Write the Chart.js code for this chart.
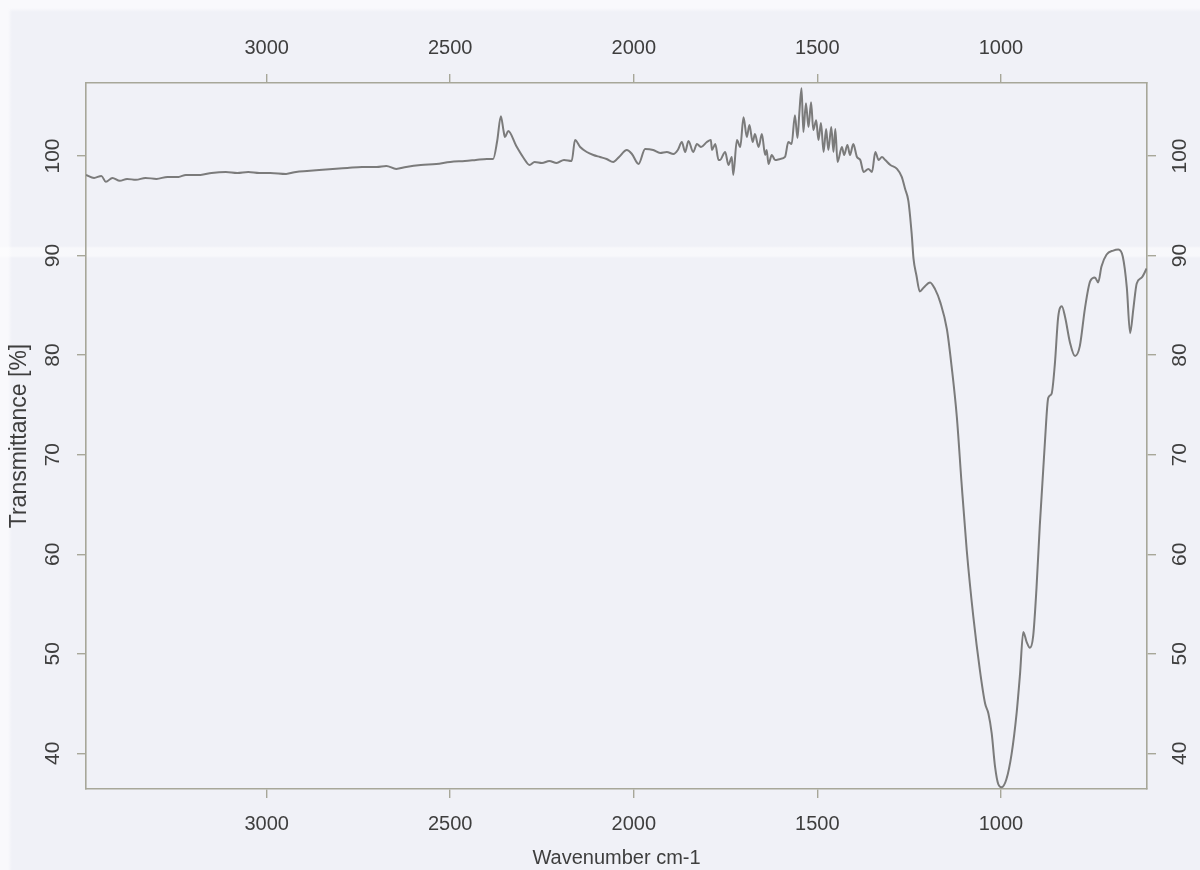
<!DOCTYPE html>
<html>
<head>
<meta charset="utf-8">
<title>IR spectrum</title>
<script src="https://cdn.jsdelivr.net/npm/chart.js@4.4.1/dist/chart.umd.min.js"></script>
<style>
  html, body { margin: 0; padding: 0; }
  body { background: #f0f1f7; }
  #wrap {
    position: relative;
    width: 1200px;
    height: 870px;
    background:
      linear-gradient(180deg, rgba(255,255,255,0) 246px, rgba(255,255,255,0.5) 248px, rgba(255,255,255,0.5) 256px, rgba(255,255,255,0) 258px),
      linear-gradient(180deg, #f9f9fc 0px, #f9f9fc 8px, rgba(255,255,255,0) 12px),
      linear-gradient(90deg, #f9f9fc 0px, #f9f9fc 8px, rgba(255,255,255,0) 12px),
      #f0f1f7;
  }
  canvas { position: absolute; left: 0; top: 0; }
</style>
</head>
<body>
<div id="wrap"><canvas id="spectrum" width="1200" height="870"></canvas></div>
<script>
// Wavenumber (cm-1), high to low, and the transmittance (%) at each one
const wavenumbers = [
  3492, 3470, 3450, 3438, 3420, 3400, 3380, 3356, 3330, 3300,
  3270, 3240, 3220, 3180, 3150, 3111, 3080, 3050, 3020, 2990,
  2947, 2920, 2890, 2857, 2820, 2780, 2740, 2700, 2674, 2647,
  2620, 2580, 2538, 2500, 2460, 2430, 2400, 2383, 2372, 2362,
  2355, 2351, 2342, 2320, 2300, 2284, 2270, 2250, 2230, 2210,
  2190, 2169, 2160, 2146, 2128, 2110, 2092, 2074, 2056, 2040,
  2019, 2005, 1987, 1969, 1947, 1928, 1910, 1892, 1880, 1869,
  1860, 1851, 1838, 1828, 1817, 1801, 1790, 1787, 1778, 1769,
  1765, 1751, 1742, 1733, 1729, 1719, 1710, 1701, 1692, 1685,
  1676, 1670, 1660, 1651, 1642, 1638, 1633, 1624, 1615, 1601,
  1588, 1579, 1570, 1561, 1554, 1549, 1543, 1538, 1531, 1524,
  1517, 1511, 1503, 1497, 1490, 1483, 1476, 1470, 1462, 1456,
  1451, 1445, 1433, 1427, 1418, 1411, 1402, 1392, 1383, 1374,
  1361, 1351, 1342, 1333, 1324, 1315, 1301, 1283, 1270, 1261,
  1252, 1243, 1238, 1230, 1221, 1210, 1193, 1179, 1165, 1147,
  1134, 1120, 1107, 1093, 1075, 1057, 1043, 1034, 1025, 1016,
  1007, 998, 985, 971, 957, 948, 939, 930, 921, 912,
  903, 894, 880, 871, 862, 853, 844, 834, 825, 812,
  798, 785, 771, 757, 744, 735, 726, 712, 694, 680,
  668, 657, 648, 639, 630, 616, 603
];

const transmittance = [
  98.1, 97.8, 98.0, 97.4, 97.8, 97.5, 97.7, 97.6, 97.8, 97.7,
  97.9, 97.9, 98.1, 98.1, 98.3, 98.4, 98.3, 98.4, 98.3, 98.3,
  98.2, 98.4, 98.5, 98.6, 98.7, 98.8, 98.9, 98.9, 99.0, 98.7,
  98.9, 99.1, 99.2, 99.4, 99.5, 99.6, 99.7, 99.7, 101.5, 104.0,
  102.6, 101.9, 102.5, 101.0, 99.8, 99.1, 99.4, 99.3, 99.5, 99.3,
  99.6, 99.5, 101.6, 100.9, 100.4, 100.1, 99.9, 99.7, 99.4, 99.9,
  100.6, 100.2, 99.2, 100.7, 100.6, 100.3, 100.4, 100.2, 100.6, 101.4,
  100.4, 101.5, 100.4, 101.2, 100.9, 101.4, 101.6, 100.6, 101.2, 99.6,
  99.6, 100.4, 99.1, 99.9, 98.1, 101.6, 100.9, 103.9, 101.9, 103.1,
  101.4, 102.2, 100.9, 102.2, 100.1, 100.6, 99.2, 100.1, 99.6, 99.7,
  99.9, 101.4, 101.2, 104.1, 101.8, 104.3, 106.8, 102.4, 105.3, 102.9,
  105.4, 102.6, 103.6, 101.6, 103.3, 100.4, 102.7, 100.6, 102.9, 100.4,
  102.7, 99.4, 100.9, 100.1, 101.1, 100.1, 101.2, 99.9, 99.6, 98.4,
  98.7, 98.4, 100.4, 99.6, 99.9, 99.6, 99.1, 98.7, 97.9, 96.7,
  95.5, 92.2, 89.7, 88.0, 86.4, 86.8, 87.3, 86.6, 85.3, 82.6,
  78.8, 73.8, 67.1, 60.4, 53.7, 48.3, 45.0, 44.0, 42.0, 38.7,
  36.9, 36.6, 37.4, 39.9, 44.1, 47.9, 52.2, 51.2, 50.6, 51.8,
  56.6, 62.9, 71.3, 75.7, 76.1, 79.1, 83.8, 84.9, 83.8, 81.3,
  79.9, 80.9, 84.7, 87.4, 87.8, 87.3, 88.9, 90.1, 90.5, 90.6,
  89.9, 86.8, 82.2, 84.7, 87.2, 87.8, 88.7
];

// Tick positions on both axes
const xTickValues = [3000, 2500, 2000, 1500, 1000];
const yTickValues = [40, 50, 60, 70, 80, 90, 100];

const xTitle = 'Wavenumber cm-1';
const yTitle = 'Transmittance [%]';

const points = wavenumbers.map((w, i) => ({ x: w, y: transmittance[i] }));

Chart.defaults.font.family = '"Liberation Sans", Arial, Helvetica, sans-serif';
Chart.defaults.color = '#3e3e3e';

const frameColor = '#a7a799';
const labelFont = { size: 20 };
const rotatedFont = { size: 21 };
const titleRotFont = { size: 23 };

const setTicks = values => scale => {
  scale.ticks = values.map(v => ({ value: v }));
};
const plainLabel = v => String(v);

const xRange = { min: 602, max: 3492 };
const yRange = { min: 36.42, max: 107.33 };

const gridOpts = {
  display: true,
  drawOnChartArea: false,
  drawTicks: true,
  tickLength: 9,
  color: frameColor,
  lineWidth: 1.4
};
const borderOpts = { display: true, color: frameColor, width: 1.6 };

new Chart(document.getElementById('spectrum'), {
  type: 'line',
  data: {
    datasets: [{
      data: points,
      borderColor: '#7b7b7b',
      borderWidth: 2,
      pointRadius: 0,
      fill: false,
      cubicInterpolationMode: 'monotone'
    }]
  },
  options: {
    responsive: false,
    animation: false,
    devicePixelRatio: 1,
    layout: { padding: 0 },
    plugins: { legend: { display: false }, tooltip: { enabled: false } },
    scales: {
      x: {
        type: 'linear',
        position: 'bottom',
        reverse: true,
        ...xRange,
        afterBuildTicks: setTicks(xTickValues),
        afterFit: s => { s.height = 81; },
        grid: gridOpts,
        border: borderOpts,
        ticks: { font: labelFont, padding: 14, maxRotation: 0, autoSkip: false, callback: plainLabel },
        title: { display: true, text: xTitle, font: labelFont, padding: { top: 0, bottom: 0 } }
      },
      x2: {
        type: 'linear',
        position: 'top',
        reverse: true,
        ...xRange,
        afterBuildTicks: setTicks(xTickValues),
        afterFit: s => { s.height = 83; },
        grid: gridOpts,
        border: borderOpts,
        ticks: { font: labelFont, padding: 14, maxRotation: 0, autoSkip: false, callback: plainLabel }
      },
      y: {
        type: 'linear',
        position: 'left',
        ...yRange,
        afterBuildTicks: setTicks(yTickValues),
        afterFit: s => { s.width = 86; },
        grid: gridOpts,
        border: borderOpts,
        ticks: { font: rotatedFont, padding: 6, minRotation: 90, maxRotation: 90, crossAlign: 'center', autoSkip: false, callback: plainLabel },
        title: { display: true, text: yTitle, font: titleRotFont, padding: { top: 6, bottom: 0 } }
      },
      y2: {
        type: 'linear',
        position: 'right',
        ...yRange,
        afterBuildTicks: setTicks(yTickValues),
        afterFit: s => { s.width = 53; },
        grid: gridOpts,
        border: borderOpts,
        ticks: { font: rotatedFont, padding: 7, minRotation: 90, maxRotation: 90, crossAlign: 'center', autoSkip: false, callback: plainLabel }
      }
    }
  }
});
</script>
</body>
</html>
